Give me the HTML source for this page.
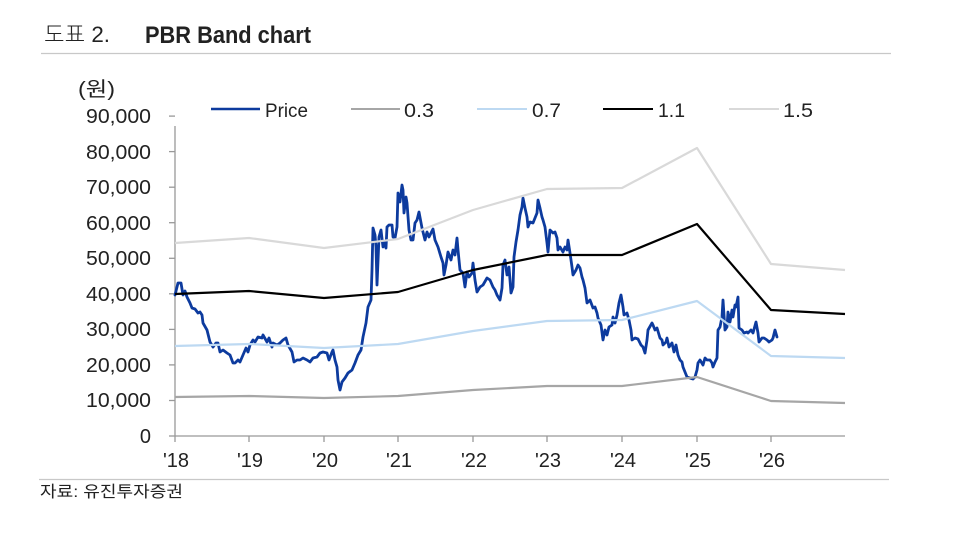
<!DOCTYPE html>
<html><head><meta charset="utf-8"><style>
html,body{margin:0;padding:0;background:#fff;}
svg{display:block;}
text{font-family:"Liberation Sans","Noto Sans CJK KR",sans-serif;fill:#222;}
</style></head><body>
<svg width="954" height="549" viewBox="0 0 954 549" xmlns="http://www.w3.org/2000/svg">
<!-- title -->
<text x="44" y="42" font-size="22" font-weight="300" textLength="66" lengthAdjust="spacingAndGlyphs">도표 2.</text>
<text x="145" y="43" font-size="24" font-weight="bold" fill="#111" textLength="166" lengthAdjust="spacingAndGlyphs">PBR Band chart</text>
<line x1="41" y1="53.5" x2="891" y2="53.5" stroke="#c8c8c8" stroke-width="1.3"/>

<!-- unit -->
<text x="78" y="96" font-size="20" textLength="37" lengthAdjust="spacingAndGlyphs">(원)</text>

<!-- legend -->
<line x1="211" y1="109" x2="260" y2="109" stroke="#0d3b9e" stroke-width="2.6"/>
<text x="265" y="117" font-size="19" textLength="43" lengthAdjust="spacingAndGlyphs">Price</text>
<line x1="351" y1="109" x2="400" y2="109" stroke="#a6a6a6" stroke-width="2"/>
<text x="404" y="117" font-size="19" textLength="30" lengthAdjust="spacingAndGlyphs">0.3</text>
<line x1="477" y1="109" x2="527" y2="109" stroke="#bdd9f2" stroke-width="2"/>
<text x="532" y="117" font-size="19" textLength="29" lengthAdjust="spacingAndGlyphs">0.7</text>
<line x1="603" y1="109" x2="653" y2="109" stroke="#000" stroke-width="2"/>
<text x="658" y="117" font-size="19" textLength="27" lengthAdjust="spacingAndGlyphs">1.1</text>
<line x1="729" y1="109" x2="779" y2="109" stroke="#d9d9d9" stroke-width="2"/>
<text x="783" y="117" font-size="19" textLength="30" lengthAdjust="spacingAndGlyphs">1.5</text>

<!-- y axis labels -->
<g font-size="20" text-anchor="end">
<text x="151" y="123" textLength="65" lengthAdjust="spacingAndGlyphs">90,000</text>
<text x="151" y="159" textLength="65" lengthAdjust="spacingAndGlyphs">80,000</text>
<text x="151" y="194" textLength="65" lengthAdjust="spacingAndGlyphs">70,000</text>
<text x="151" y="230" textLength="65" lengthAdjust="spacingAndGlyphs">60,000</text>
<text x="151" y="265" textLength="65" lengthAdjust="spacingAndGlyphs">50,000</text>
<text x="151" y="301" textLength="65" lengthAdjust="spacingAndGlyphs">40,000</text>
<text x="151" y="336" textLength="65" lengthAdjust="spacingAndGlyphs">30,000</text>
<text x="151" y="372" textLength="65" lengthAdjust="spacingAndGlyphs">20,000</text>
<text x="151" y="407" textLength="65" lengthAdjust="spacingAndGlyphs">10,000</text>
<text x="151" y="443">0</text>
</g>

<!-- axes -->
<g stroke="#999" stroke-width="1.3" fill="none">
<line x1="175" y1="126" x2="175" y2="436"/>
<line x1="175" y1="436" x2="845" y2="436"/>
<line x1="169" y1="116.1" x2="175" y2="116.1"/>
<line x1="169" y1="151.6" x2="175" y2="151.6"/>
<line x1="169" y1="187.2" x2="175" y2="187.2"/>
<line x1="169" y1="222.7" x2="175" y2="222.7"/>
<line x1="169" y1="258.3" x2="175" y2="258.3"/>
<line x1="169" y1="293.8" x2="175" y2="293.8"/>
<line x1="169" y1="329.4" x2="175" y2="329.4"/>
<line x1="169" y1="364.9" x2="175" y2="364.9"/>
<line x1="169" y1="400.5" x2="175" y2="400.5"/>
<line x1="169" y1="436" x2="175" y2="436"/>
<line x1="175" y1="436" x2="175" y2="442"/>
<line x1="249" y1="436" x2="249" y2="442"/>
<line x1="324" y1="436" x2="324" y2="442"/>
<line x1="398" y1="436" x2="398" y2="442"/>
<line x1="473" y1="436" x2="473" y2="442"/>
<line x1="547" y1="436" x2="547" y2="442"/>
<line x1="622" y1="436" x2="622" y2="442"/>
<line x1="697" y1="436" x2="697" y2="442"/>
<line x1="771" y1="436" x2="771" y2="442"/>
</g>

<!-- x labels -->
<g font-size="20" text-anchor="middle">
<text x="176" y="467">'18</text>
<text x="250" y="467">'19</text>
<text x="325" y="467">'20</text>
<text x="399" y="467">'21</text>
<text x="474" y="467">'22</text>
<text x="548" y="467">'23</text>
<text x="623" y="467">'24</text>
<text x="698" y="467">'25</text>
<text x="772" y="467">'26</text>
</g>

<!-- price -->
<polyline fill="none" stroke="#0d3b9e" stroke-width="2.8" stroke-linejoin="round" stroke-linecap="round" points="175,295 178,283 181,283 183,295 185,291 187,297 190,303 192,308 195,309 198,313 200,312 202,315 203,323 207,330 210,342 213,347 216,343 218,343 220,352 223,350 227,353 230,355 233,363 235,363 238,360 240,362 243,355 246,348 248,352 250,345 253,340 255,342 258,337 262,338 263,335 267,342 269,338 272,347 273,343 277,345 280,343 283,340 286,338 288,345 292,352 294,362 297,360 300,360 303,358 307,360 310,362 313,358 317,357 320,353 323,352 327,353 329,360 332,352 333,350 335,360 337,367 338,380 340,390 342,382 345,378 348,373 352,370 355,363 358,355 361,350 363,337 366,323 368,307 371,300 372,270 373,228 375,235 376,247 377,285 379,237 381,230 383,247 384,242 386,248 387,227 389,225 392,225 393,237 395,238 397,227 398,193 400,202 402,185 403,190 404,213 406,197 407,203 409,230 411,240 413,240 415,223 417,220 419,212 422,228 425,240 427,232 429,237 433,229 435,240 438,247 441,257 443,263 444,275 446,265 448,252 451,260 453,250 455,255 457,238 458,250 460,270 463,273 465,287 467,272 469,277 472,273 473,263 475,280 477,292 480,287 483,285 487,278 490,280 493,287 495,290 497,295 500,300 502,288 503,265 505,260 507,275 509,267 511,293 513,287 514,257 516,242 518,230 520,215 522,207 523,198 525,208 527,217 528,227 530,222 533,223 535,218 537,213 538,200 540,208 542,217 543,220 545,227 547,243 548,252 550,230 553,233 555,232 557,238 558,250 560,247 563,252 565,247 567,250 568,240 570,253 572,267 573,275 576,270 578,265 580,268 582,277 583,280 585,288 587,303 590,300 593,308 595,307 597,313 598,318 601,325 603,340 605,330 607,335 609,327 612,325 613,317 615,323 617,315 619,303 621,295 623,307 624,315 627,313 629,320 631,330 632,340 635,338 638,339 641,345 643,347 645,353 647,340 648,330 652,323 653,325 655,330 657,328 660,338 662,340 663,345 666,342 667,338 669,347 672,343 674,352 676,345 678,355 680,360 682,362 683,367 685,372 687,377 690,378 693,379 695,377 697,370 698,363 700,360 703,365 705,358 707,360 710,360 712,363 713,367 715,362 717,358 718,330 720,327 722,317 723,300 725,330 727,327 728,312 730,322 732,310 733,317 735,305 736,307 738,297 739,328 742,330 744,333 747,332 748,333 751,330 753,333 756,322 758,333 759,342 762,338 764,338 767,340 769,342 772,340 773,338 775,330 777,337"/>

<!-- bands -->
<g fill="none" stroke-width="2.2" stroke-linejoin="round">
<polyline stroke="#d9d9d9" points="175,243 249,238 324,248 398,239 473,210 547,189 622,188 697,148 771,264 845,270"/>
<polyline stroke="#000" points="175,294 249,291 324,298 398,292 473,270 547,255 622,255 697,224 771,310 845,314"/>
<polyline stroke="#bdd9f2" points="175,346 249,344 324,348 398,344 473,331 547,321 622,320 697,301 771,356 845,358"/>
<polyline stroke="#a6a6a6" points="175,397 249,396 324,398 398,396 473,390 547,386 622,386 697,377 771,401 845,403"/>
</g>

<!-- footer -->
<line x1="39" y1="479.5" x2="889" y2="479.5" stroke="#c8c8c8" stroke-width="1.3"/>
<text x="40" y="497" font-size="16" textLength="143" lengthAdjust="spacingAndGlyphs">자료: 유진투자증권</text>
</svg>
</body></html>
